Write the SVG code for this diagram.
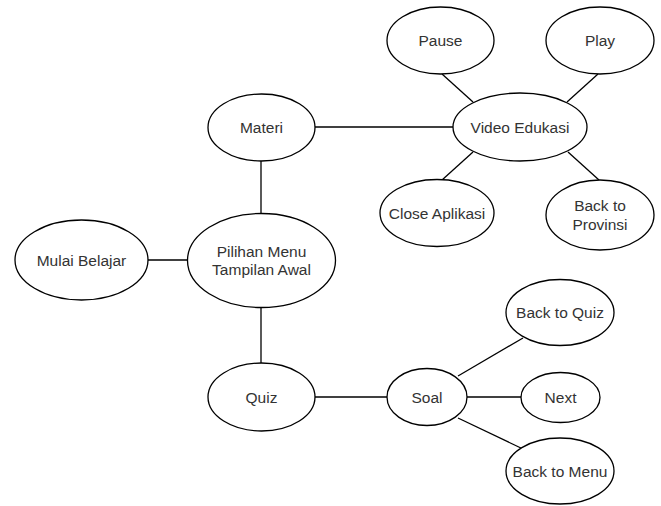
<svg xmlns="http://www.w3.org/2000/svg" width="661" height="506" viewBox="0 0 661 506">
<style>
.n ellipse{fill:#fff;stroke:#000;stroke-width:1.3}
.n text{font-family:"Liberation Sans",Arial,sans-serif;font-size:15.5px;fill:#333;text-anchor:middle;dominant-baseline:central}
#edges line{stroke:#000;stroke-width:1.3}
</style>
<rect width="661" height="506" fill="#fff"/>
<g id="edges">
<line x1="315" y1="127" x2="453" y2="127"/>
<line x1="261" y1="161" x2="261" y2="213"/>
<line x1="148" y1="260" x2="187" y2="260"/>
<line x1="261" y1="307" x2="261" y2="363"/>
<line x1="315" y1="397" x2="387" y2="397"/>
<line x1="467" y1="397" x2="521" y2="397"/>
<line x1="458" y1="376" x2="523" y2="338"/>
<line x1="458" y1="418" x2="523" y2="449"/>
<line x1="442" y1="74" x2="473" y2="102"/>
<line x1="598" y1="74" x2="567" y2="102"/>
<line x1="473" y1="152" x2="442" y2="180"/>
<line x1="568" y1="152" x2="599" y2="180"/>
</g>
<g id="materi" class="n"><ellipse cx="261.5" cy="127.5" rx="53.5" ry="33.5"/><text x="261.5" y="127.5">Materi</text></g>
<g id="pilihan" class="n"><ellipse cx="261.5" cy="260.5" rx="74" ry="47"/><text x="261.5" y="251.5">Pilihan Menu</text><text x="261.5" y="269.5">Tampilan Awal</text></g>
<g id="mulai" class="n"><ellipse cx="81.5" cy="260" rx="66.5" ry="40"/><text x="81.5" y="260">Mulai Belajar</text></g>
<g id="quiz" class="n"><ellipse cx="261.5" cy="397" rx="53.5" ry="34"/><text x="261.5" y="397">Quiz</text></g>
<g id="video" class="n"><ellipse cx="520" cy="127" rx="67" ry="34"/><text x="520" y="127">Video Edukasi</text></g>
<g id="pause" class="n"><ellipse cx="440.5" cy="40.5" rx="53.5" ry="33.5"/><text x="440.5" y="40.5">Pause</text></g>
<g id="play" class="n"><ellipse cx="600" cy="40.5" rx="54" ry="33.5"/><text x="600" y="40.5">Play</text></g>
<g id="close" class="n"><ellipse cx="437" cy="213" rx="57" ry="33.5"/><text x="437" y="213">Close Aplikasi</text></g>
<g id="backprov" class="n"><ellipse cx="600" cy="215" rx="54" ry="35"/><text x="600" y="205">Back to</text><text x="600" y="224">Provinsi</text></g>
<g id="soal" class="n"><ellipse cx="427" cy="397" rx="40" ry="28.5"/><text x="427" y="397">Soal</text></g>
<g id="next" class="n"><ellipse cx="560.5" cy="397.5" rx="39.5" ry="25"/><text x="560.5" y="397.5">Next</text></g>
<g id="backquiz" class="n"><ellipse cx="560" cy="312.5" rx="54" ry="33"/><text x="560" y="312.5">Back to Quiz</text></g>
<g id="backmenu" class="n"><ellipse cx="560" cy="471" rx="54" ry="33"/><text x="560" y="471">Back to Menu</text></g>
</svg>
